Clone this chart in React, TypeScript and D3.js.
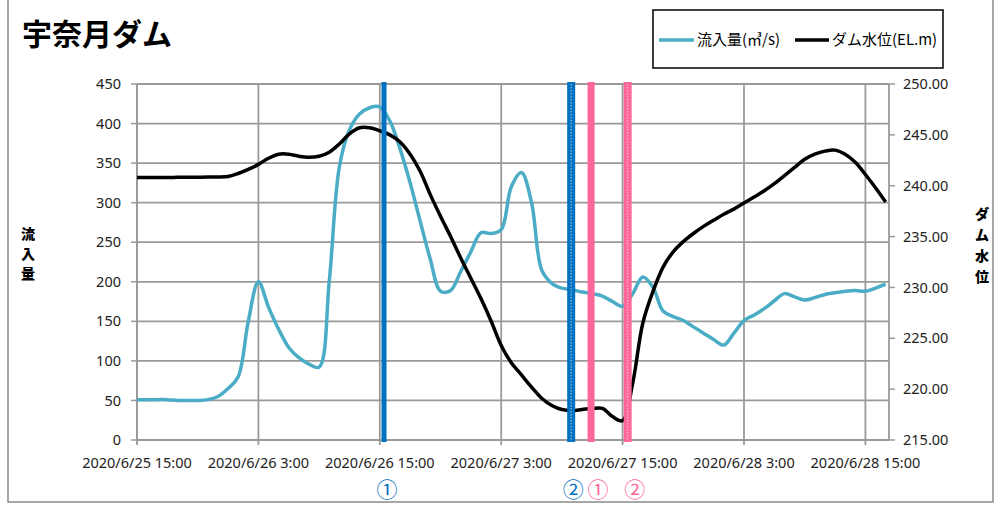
import React from "react";
import * as d3 from "d3";

// hourly readings starting 2020/6/25 15:00
const startTime = "2020/6/25 15:00";
const endTime = "2020/6/28 17:20";

const inflow = [
  51, 51, 51, 51, 50, 50, 50, 51, 55, 65, 80, 150, 200, 168, 140, 117, 104, 96, 92, 200,
  345, 392, 412, 420, 421, 403, 368, 325, 276, 228, 188, 189, 213, 238, 262, 261, 266, 320, 338, 300,
  215, 198, 192, 190, 187, 185, 182, 175, 169, 185, 206, 193, 163, 156, 151, 143, 135, 127, 120, 135,
  151, 158, 166, 176, 185, 181, 177, 180, 184, 186, 188, 189, 188, 192, 197,
];

const level = [
  240.8, 240.8, 240.8, 240.8, 240.82, 240.83, 240.84, 240.85, 240.85, 240.9, 241.2, 241.6, 242.1, 242.7, 243.1, 243.1, 242.9, 242.8, 242.9, 243.3,
  244.1, 245.1, 245.7, 245.7, 245.4, 245.0, 244.3, 243.1, 241.4, 239.1, 237.0, 235.0, 232.9, 230.9, 228.9, 226.7, 224.3, 222.6, 221.4, 220.2,
  219.1, 218.4, 218.0, 217.9, 218.0, 218.1, 218.1, 217.3, 216.9, 220.6, 226.5, 229.6, 232.0, 233.5, 234.5, 235.3, 236.0, 236.6, 237.2, 237.7,
  238.3, 238.9, 239.5, 240.2, 241.0, 241.8, 242.6, 243.1, 243.4, 243.5, 243.1, 242.3, 241.1, 239.8, 238.4,
];

const xTickLabels = [
  "2020/6/25 15:00",
  "2020/6/26 3:00",
  "2020/6/26 15:00",
  "2020/6/27 3:00",
  "2020/6/27 15:00",
  "2020/6/28 3:00",
  "2020/6/28 15:00",
];
const leftTicks = [0, 50, 100, 150, 200, 250, 300, 350, 400, 450];
const rightTicks = [215, 220, 225, 230, 235, 240, 245, 250];

const markerTimes = ["2020/6/26 15:25", "2020/6/27 9:55", "2020/6/27 11:53", "2020/6/27 15:30"];
const markerLabels = ["①", "②", "①", "②"];
const markerColors = ["#0070C0", "#0070C0", "#FF6699", "#FF6699"];
const markerDotted = [false, true, false, true];

const title = "宇奈月ダム";
const seriesNames = ["流入量(㎥/s)", "ダム水位(EL.m)"];
const leftTitle = ["流", "入", "量"];
const rightTitle = ["ダ", "ム", "水", "位"];

const parse = d3.timeParse("%Y/%m/%d %H:%M");

export default function App() {
  const W = 996;
  const H = 505;
  const plot = { left: 137, right: 889, top: 84, bottom: 440 };

  const t0 = parse(startTime) as Date;
  const times = inflow.map((_, i) => d3.timeHour.offset(t0, i));

  const x = d3
    .scaleTime()
    .domain([t0, parse(endTime) as Date])
    .range([plot.left, plot.right]);
  const yL = d3.scaleLinear().domain([0, 450]).range([plot.bottom, plot.top]);
  const yR = d3.scaleLinear().domain([215, 250]).range([plot.bottom, plot.top]);

  const inflowLine = d3
    .line<number>()
    .x((_, i) => x(times[i]))
    .y((d) => yL(d))
    .curve(d3.curveCatmullRom);
  const levelLine = d3
    .line<number>()
    .x((_, i) => x(times[i]))
    .y((d) => yR(d))
    .curve(d3.curveCatmullRom);

  const font = "'Noto Sans', 'Noto Sans CJK JP', sans-serif";
  const jp = "'Noto Sans CJK JP', sans-serif";
  const grid = "#9a9a9a";
  // label nudges beside each marker bar
  const labelShift = [3, 2, 7, 7];

  return (
    <svg width={W} height={H} style={{ position: "absolute", left: 0, top: 0 }}>
      <rect x={0} y={0} width={W} height={H} fill="#fff" />
      {/* outer frame */}
      <path d={`M8,-2 V502 H993 V-2`} fill="none" stroke="#8a8a8a" strokeWidth={1.5} />

      <text x={22} y={45} fontFamily={jp} fontWeight={700} fontSize={30} fill="#000">
        {title}
      </text>

      {/* legend */}
      <rect x={653} y={10} width={290} height={58} fill="#fff" stroke="#000" strokeWidth={1.5} />
      <line x1={659} x2={694} y1={40} y2={40} stroke="#4BACC6" strokeWidth={3.5} />
      <text x={697} y={45} fontFamily={jp} fontSize={15}>
        {seriesNames[0]}
      </text>
      <line x1={795} x2={829} y1={40} y2={40} stroke="#000" strokeWidth={3.5} />
      <text x={832} y={45} fontFamily={jp} fontSize={15}>
        {seriesNames[1]}
      </text>

      {/* gridlines */}
      {leftTicks.map((v) => (
        <line key={"h" + v} x1={plot.left} x2={plot.right} y1={yL(v)} y2={yL(v)} stroke={grid} strokeWidth={1.8} />
      ))}
      {xTickLabels.map((s) => {
        const xv = x(parse(s) as Date);
        return (
          <g key={s}>
            <line x1={xv} x2={xv} y1={plot.top} y2={plot.bottom + 5} stroke={grid} strokeWidth={1.8} />
            <text x={xv} y={468} textAnchor="middle" fontFamily={font} fontSize={14.5} fill="#222">
              {s}
            </text>
          </g>
        );
      })}

      {/* axes */}
      <line x1={plot.left} x2={plot.left} y1={plot.top} y2={plot.bottom} stroke={grid} strokeWidth={1.8} />
      <line x1={plot.right} x2={plot.right} y1={plot.top} y2={plot.bottom} stroke={grid} strokeWidth={1.8} />
      {leftTicks.map((v) => (
        <g key={"l" + v}>
          <line x1={plot.left - 6} x2={plot.left} y1={yL(v)} y2={yL(v)} stroke={grid} strokeWidth={1.5} />
          <text x={121} y={yL(v)} dy="0.35em" textAnchor="end" fontFamily={font} fontSize={14.5} fill="#222">
            {v}
          </text>
        </g>
      ))}
      {rightTicks.map((v) => (
        <g key={"r" + v}>
          <line x1={plot.right} x2={plot.right + 6} y1={yR(v)} y2={yR(v)} stroke={grid} strokeWidth={1.5} />
          <text x={903} y={yR(v)} dy="0.35em" fontFamily={font} fontSize={14.5} fill="#222">
            {v.toFixed(2)}
          </text>
        </g>
      ))}

      {/* axis titles */}
      {leftTitle.map((c, i) => (
        <text key={"lt" + i} x={28} y={234 + i * 20} dy="0.35em" textAnchor="middle" fontFamily={jp} fontWeight={900} fontSize={14}>
          {c}
        </text>
      ))}
      {rightTitle.map((c, i) => (
        <text key={"rt" + i} x={982} y={214 + i * 21} dy="0.35em" textAnchor="middle" fontFamily={jp} fontWeight={900} fontSize={14}>
          {c}
        </text>
      ))}

      {/* series */}
      <path d={inflowLine(inflow) || ""} fill="none" stroke="#4BACC6" strokeWidth={3.5} strokeLinejoin="round" />
      <path d={levelLine(level) || ""} fill="none" stroke="#000" strokeWidth={3.5} strokeLinejoin="round" />

      {/* event markers */}
      {markerTimes.map((s, i) => {
        const xv = x(parse(s) as Date);
        const w = markerDotted[i] ? 8 : i === 0 ? 5 : 7;
        return (
          <g key={"m" + i}>
            <rect x={xv - w / 2} y={82} width={w} height={360} fill={markerColors[i]} />
            {markerDotted[i] && (
              <line x1={xv} x2={xv} y1={84} y2={440} stroke="#fff" strokeOpacity={0.45} strokeWidth={1.5} strokeDasharray="1.5 1.5" />
            )}
            <text x={xv + labelShift[i]} y={489} dy="0.36em" textAnchor="middle" fontFamily={jp} fontSize={21} fill={markerColors[i]}>
              {markerLabels[i]}
            </text>
          </g>
        );
      })}
    </svg>
  );
}
